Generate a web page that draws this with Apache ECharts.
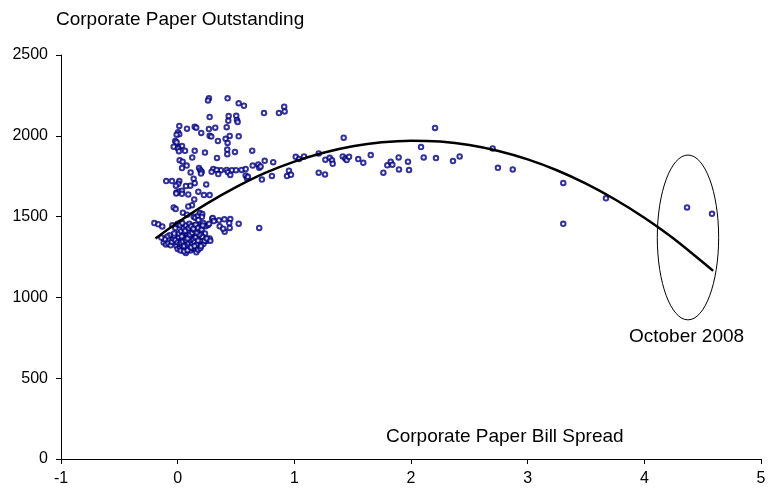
<!DOCTYPE html>
<html>
<head>
<meta charset="utf-8">
<script src="https://cdn.jsdelivr.net/npm/echarts@6/dist/echarts.min.js"></script>
<style>
html,body{margin:0;padding:0;background:#fff;}
#chart{width:769px;height:497px;}
</style>
</head>
<body>
<div id="chart"></div>
<script>
// ---- Data ----
var xTicks = [-1, 0, 1, 2, 3, 4, 5];
var yTicks = [0, 500, 1000, 1500, 2000, 2500];

// upper scatter near zero spread
var pointsUpper = [
[0.268,2232],[0.26,2219],[0.428,2232],[0.523,2201],[0.568,2186],[0.913,2180],[0.868,2141],[0.917,2151],
[0.74,2141],[0.437,2122],[0.502,2124],[0.274,2116],[0.434,2093],[0.508,2098],[0.514,2085],[0.014,2061],
[0.146,2056],[0.159,2050],[0.08,2044],[0.268,2042],[0.322,2050],[0.42,2053],[0.202,2018],[0.003,2022],
[0.014,2010],[-0.009,2007],[0.274,2001],[0.288,1995],[0.446,1999],[0.523,1997],[0.411,1981],[0.428,1956],
[0.345,1968],[-0.021,1968],[-0.009,1960],[-0.034,1933],[0.014,1931],[0.037,1937],[0.003,1921],[0.063,1907],
[0.011,1905],[0.146,1907],[0.234,1896],[0.425,1915],[0.491,1900],[0.639,1908],[0.425,1886],[0.125,1865],
[0.337,1863],[0.017,1849],[0.043,1840],[0.746,1845],[0.819,1837],[0.077,1816],[0.037,1800],[0.183,1800],
[0.194,1787],[0.206,1777],[0.2,1766],[0.111,1773],[0.305,1795],[0.371,1787],[0.291,1777],[0.334,1789],
[0.348,1763],[0.42,1789],[0.431,1775],[0.465,1787],[0.451,1758],[0.5,1787],[0.548,1789],[0.583,1794],
[0.643,1816],[0.691,1822],[0.699,1803],[0.711,1810],[0.583,1754],[0.594,1738],[0.602,1746],[0.722,1729],
[0.808,1752],[-0.098,1720],[-0.049,1720],[0.014,1720],[0.005,1703],[-0.015,1691],[0.137,1734],[0.146,1707],
[0.108,1691],[0.071,1689],[0.245,1699],[-0.009,1649],[0.014,1655],[0.037,1660],[0.037,1641],[-0.012,1643],
[0.177,1654],[0.091,1637],[0.225,1633],[0.274,1633],[0.142,1606],[0.123,1571],[0.091,1563],[-0.034,1557],
[-0.017,1547],[0.045,1524],[0.08,1512]
];

// lower scatter near zero spread
var pointsLower = [
[0.137,1499],[0.151,1493],[0.174,1505],[0.191,1522],[0.211,1516],[0.208,1499],[0.177,1479],[0.297,1487],
[0.354,1477],[0.4,1483],[0.451,1485],[0.442,1460],[0.523,1456],[0.446,1430],[0.699,1430],[0.403,1407],
[0.234,1396],[0.234,1362],[0.274,1364],[0.248,1349],[-0.2,1460],[-0.166,1452],[-0.132,1439],[-0.046,1446],
[-0.009,1446],[0.026,1464],[0.3,1492],[0.31,1472],[0.36,1440],[0.39,1425],
[-0.12,1340],[-0.1,1328],[-0.08,1335],[-0.06,1322],[-0.05,1345],[-0.04,1365],[-0.03,1380],[-0.02,1355],
[-0.01,1318],[0,1300],[0.0,1340],[0.01,1372],[0.01,1395],[0.02,1310],[0.02,1330],[0.03,1352],
[0.03,1410],[0.04,1295],[0.04,1320],[0.04,1365],[0.05,1340],[0.05,1385],[0.05,1430],[0.06,1305],
[0.06,1355],[0.06,1400],[0.07,1275],[0.07,1325],[0.07,1370],[0.07,1445],[0.08,1340],[0.08,1390],
[0.08,1415],[0.09,1300],[0.09,1355],[0.09,1378],[0.1,1320],[0.1,1345],[0.1,1405],[0.1,1455],
[0.11,1335],[0.11,1362],[0.11,1290],[0.12,1350],[0.12,1385],[0.12,1425],[0.13,1315],[0.13,1340],
[0.13,1370],[0.14,1300],[0.14,1395],[0.14,1445],[0.15,1330],[0.15,1360],[0.16,1279],[0.16,1345],
[0.16,1420],[0.17,1310],[0.17,1380],[0.18,1340],[0.18,1445],[0.19,1325],[0.19,1365],[0.2,1398],
[0.2,1350],[0.21,1375],[0.22,1330],[0.22,1460],[0.23,1350],[0.24,1440],[0.25,1365],[0.26,1448],
[0.27,1455],[0.28,1350],[-0.02,1430],[-0.03,1395],[0.0,1455],[0.02,1448],[0.04,1460],
[-0.07,1385],[-0.09,1375],[-0.11,1360],[-0.14,1370],[0.06,1330],[0.09,1320],[0.12,1305],[0.15,1395],
[0.03,1338],[0.045,1347],[0.055,1318],[0.065,1362],[0.075,1350],[0.085,1328],[0.095,1336],[0.105,1368],
[0.115,1348],[0.125,1330],[0.135,1356],[0.145,1342],[0.155,1372],[0.165,1328],[0.175,1352],[0.185,1390],
[0.035,1378],[0.085,1365],[0.105,1388],[0.125,1400],[0.145,1415],[0.165,1402],[0.185,1418],[0.195,1435],
[0.065,1412],[0.095,1428],[0.115,1440],[0.135,1425],[0.155,1450],[0.175,1430],[0.205,1420],[0.215,1445],
[0.025,1290],[0.055,1285],[0.085,1292],[0.115,1310],[0.145,1318],[0.175,1295],[0.195,1305],[0.2,1318]
];

// scatter at medium spreads
var pointsMid = [
[2.206,2049],[1.423,1988],[2.086,1930],[2.70,1922],[1.012,1870],[1.04,1856],[1.083,1872],[1.209,1891],
[1.266,1852],[1.303,1864],[1.323,1848],[1.329,1827],[1.415,1872],[1.437,1860],[1.449,1850],[1.469,1870],
[1.548,1856],[1.591,1833],[1.655,1881],[1.763,1772],[1.797,1817],[1.826,1840],[1.84,1821],[1.894,1866],
[1.897,1792],[1.974,1840],[1.983,1788],[2.109,1866],[2.214,1862],[2.36,1844],[2.417,1872],[2.745,1802],
[2.872,1792],[0.937,1751],[0.954,1784],[0.971,1759],[1.209,1772],[1.263,1761]
];

// scatter at high spreads (late 2008)
var pointsHigh = [[3.305,1708],[3.671,1613],[3.305,1455],[4.366,1557],[4.58,1517]];

// fitted trend curve
var trendX = [-0.19, 0, 0.25, 0.5, 0.75, 1, 1.25, 1.5, 1.75, 2, 2.25, 2.5, 2.75, 3, 3.25, 3.5, 3.75, 4, 4.25, 4.59];
var trendY = [1364, 1463, 1580, 1682, 1770, 1840, 1895, 1935, 1960, 1970, 1964, 1943, 1906, 1854, 1787, 1704, 1606, 1493, 1364, 1164];

// highlight ellipse: centre x, centre y, half-width (x units), half-height (y units)
var ellipseSpec = [[4.374, 1371, 0.263, 510]];

var titleText = 'Corporate Paper Outstanding';
var xAxisTitle = 'Corporate Paper Bill Spread';
var ellipseLabel = 'October 2008';

// ---- Chart ----
var FONT = '"Liberation Sans", Arial, sans-serif';
var chart = echarts.init(document.getElementById('chart'), null, {renderer: 'canvas'});
var trend = trendX.map(function (x, i) { return [x, trendY[i]]; });
var scatterStyle = {
  type: 'scatter',
  symbol: 'emptyCircle',
  symbolSize: 4.5,
  itemStyle: {color: '#000080', borderColor: '#000080', borderWidth: 1},
  silent: true,
  z: 3
};
function sc(data) { return Object.assign({}, scatterStyle, {data: data}); }

chart.setOption({
  animation: false,
  backgroundColor: '#fff',
  title: {
    text: titleText, left: 56, top: 10, padding: 0,
    textStyle: {fontFamily: FONT, fontSize: 19, fontWeight: 'normal', color: '#000'}
  },
  grid: {left: 61, right: 8, top: 55, bottom: 38, containLabel: false},
  xAxis: {
    type: 'value', min: xTicks[0], max: xTicks[xTicks.length - 1], interval: 1,
    axisLine: {show: true, onZero: false, lineStyle: {color: '#000', width: 1}},
    axisTick: {show: true, inside: false, length: 5, lineStyle: {color: '#000'}},
    axisLabel: {fontFamily: FONT, fontSize: 16, color: '#000', margin: 12,
      formatter: function (v) { return String(v); }},
    splitLine: {show: false}
  },
  yAxis: {
    type: 'value', min: yTicks[0], max: yTicks[yTicks.length - 1], interval: 500,
    axisLine: {show: true, onZero: false, lineStyle: {color: '#000', width: 1}},
    axisTick: {show: true, inside: false, length: 5, lineStyle: {color: '#000'}},
    axisLabel: {fontFamily: FONT, fontSize: 16, color: '#000', margin: 13,
      formatter: function (v) { return String(v); }},
    splitLine: {show: false}
  },
  graphic: [
    {type: 'text', left: 386, top: 427, style: {text: xAxisTitle, font: '19px ' + FONT, fill: '#000'}},
    {type: 'text', left: 629, top: 327, style: {text: ellipseLabel, font: '19px ' + FONT, fill: '#000'}}
  ],
  series: [
    sc(pointsUpper), sc(pointsLower), sc(pointsMid), sc(pointsHigh),
    {
      type: 'line', data: trend, smooth: 0.3, showSymbol: false, symbol: 'none',
      lineStyle: {color: '#000', width: 2.5}, silent: true, z: 4
    },
    {
      type: 'custom', data: ellipseSpec, silent: true, clip: false, z: 5,
      encode: {x: 0, y: 1},
      renderItem: function (params, api) {
        var c = api.coord([api.value(0), api.value(1)]);
        var s = api.size([api.value(2), api.value(3)]);
        return {
          type: 'ellipse',
          shape: {cx: c[0], cy: c[1], rx: s[0], ry: s[1]},
          style: {fill: 'none', stroke: '#000', lineWidth: 1}
        };
      }
    }
  ]
});
</script>
</body>
</html>
